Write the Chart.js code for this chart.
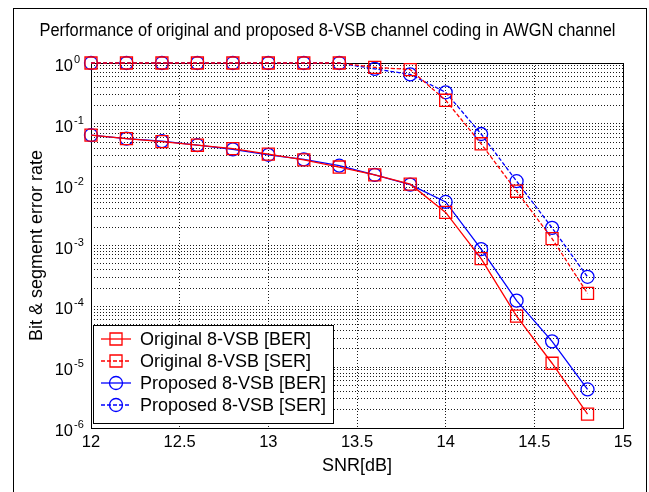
<!DOCTYPE html>
<html>
<head>
<meta charset="utf-8">
<script src="https://cdn.jsdelivr.net/npm/chart.js@4/dist/chart.umd.min.js"></script>
<style>
  html, body { margin: 0; padding: 0; background: #fff; }
  canvas { display: block; }
</style>
</head>
<body>
<canvas id="chart" width="649" height="492"></canvas>
<script>
// SNR points (dB)
const snr = [12, 12.2, 12.4, 12.6, 12.8, 13, 13.2, 13.4, 13.6, 13.8, 14, 14.2, 14.4, 14.6, 14.8];

// error rates
const originalBer = [0.065, 0.057, 0.051, 0.0445, 0.039, 0.0317, 0.0255, 0.0195, 0.0145, 0.0102, 0.0035, 6.1e-4, 6.9e-5, 1.16e-5, 1.69e-6];
const originalSer = [1, 1, 1, 1, 1, 1, 1, 1, 0.85, 0.78, 0.244, 0.047, 0.0078, 0.0013, 1.63e-4];
const proposedBer = [0.065, 0.057, 0.052, 0.0445, 0.038, 0.031, 0.026, 0.0205, 0.0145, 0.0100, 0.0052, 8.7e-4, 1.24e-4, 2.66e-5, 4.3e-6];
const proposedSer = [1, 1, 1, 1, 1, 1, 1, 1, 0.80, 0.65, 0.33, 0.068, 0.0114, 0.00195, 3.06e-4];

const seriesLabels = [
  "Original 8-VSB [BER]",
  "Original 8-VSB [SER]",
  "Proposed 8-VSB [BER]",
  "Proposed 8-VSB [SER]"
];

// x tick labels and y axis decades that get a label
const xTickLabels = ["12", "12.5", "13", "13.5", "14", "14.5", "15"];
const yExponents = [0, -1, -2, -3, -4, -5, -6];

const chartTitle = "Performance of original and proposed 8-VSB channel coding in AWGN channel";

const FONT = "Arial, 'Liberation Sans', sans-serif";
const RED = "#ff0000";
const BLUE = "#0000ff";

function pairs(values) {
  return snr.map((x, i) => ({ x, y: values[i] }));
}

function makeSet(label, values, color, shape, dashed) {
  return {
    label,
    data: pairs(values),
    borderColor: color,
    backgroundColor: color,
    borderWidth: 1.3,
    borderDash: dashed ? [4, 2] : [],
    pointStyle: shape,
    pointRadius: shape === "rect" ? 8.5 : 6.5,
    pointBorderWidth: 1.3,
    pointBorderColor: color,
    pointBackgroundColor: "rgba(0,0,0,0)",
    pointHoverRadius: shape === "rect" ? 8.5 : 6.5,
    tension: 0,
    clip: false
  };
}

/* -----------------------------------------------------
   EXTRA DRAWING: box, title, y labels, legend, frame
----------------------------------------------------- */
const matlabLook = {
  id: "matlabLook",
  beforeDatasetsDraw(chart) {
    const { ctx, chartArea: a } = chart;
    ctx.save();
    ctx.strokeStyle = "#000";
    ctx.lineWidth = 1;
    ctx.strokeRect(Math.round(a.left) + 0.5, Math.round(a.top) + 0.5,
      Math.round(a.right - a.left), Math.round(a.bottom - a.top));
    ctx.restore();
  },
  afterDraw(chart) {
    const { ctx, chartArea: a } = chart;
    const yScale = chart.scales.y;
    ctx.save();

    // outer frame
    ctx.strokeStyle = "#000";
    ctx.lineWidth = 1;
    ctx.strokeRect(13.5, 8.5, 633, 495);

    // title
    ctx.fillStyle = "#000";
    ctx.font = "18px " + FONT;
    ctx.textAlign = "center";
    ctx.textBaseline = "alphabetic";
    ctx.fillText(chartTitle, 327.5, 36, 576);

    // y tick labels 10^n
    yExponents.forEach(e => {
      const y = yScale.getPixelForValue(Math.pow(10, e));
      ctx.font = "16.5px " + FONT;
      ctx.textAlign = "right";
      ctx.fillText("10", a.left - 18, y + 8);
      ctx.font = "11px " + FONT;
      ctx.textAlign = "left";
      ctx.fillText(String(e), a.left - 17, y);
    });

    // legend
    const lx = a.left + 2, ly = a.bottom - 103, lw = 240, lh = 98;
    ctx.fillStyle = "#fff";
    ctx.fillRect(lx, ly, lw, lh);
    ctx.strokeStyle = "#000";
    ctx.strokeRect(lx + 0.5, ly + 0.5, lw, lh);
    chart.data.datasets.forEach((ds, i) => {
      const cy = ly + 14 + i * 22;
      ctx.strokeStyle = ds.borderColor;
      ctx.lineWidth = ds.borderWidth;
      ctx.setLineDash(ds.borderDash);
      ctx.beginPath();
      ctx.moveTo(lx + 8, cy);
      ctx.lineTo(lx + 38, cy);
      ctx.stroke();
      ctx.setLineDash([]);
      const mx = lx + 23;
      ctx.beginPath();
      if (ds.pointStyle === "rect") {
        const h = ds.pointRadius / Math.SQRT2;
        ctx.rect(mx - h, cy - h, 2 * h, 2 * h);
      } else {
        ctx.arc(mx, cy, ds.pointRadius, 0, Math.PI * 2);
      }
      ctx.stroke();
      ctx.fillStyle = "#000";
      ctx.font = "18px " + FONT;
      ctx.textAlign = "left";
      ctx.textBaseline = "middle";
      ctx.fillText(ds.label, lx + 47, cy + 1);
      ctx.textBaseline = "alphabetic";
    });

    ctx.restore();
  }
};

new Chart(document.getElementById("chart"), {
  type: "line",
  data: {
    datasets: [
      makeSet(seriesLabels[0], originalBer, RED, "rect", false),
      makeSet(seriesLabels[1], originalSer, RED, "rect", true),
      makeSet(seriesLabels[2], proposedBer, BLUE, "circle", false),
      makeSet(seriesLabels[3], proposedSer, BLUE, "circle", true)
    ]
  },
  options: {
    responsive: false,
    animation: false,
    layout: {
      padding: { left: 0, right: 26, top: 63, bottom: 0 }
    },
    plugins: {
      legend: { display: false },
      title: { display: false },
      tooltip: { enabled: false }
    },
    scales: {
      x: {
        type: "linear",
        min: 12,
        max: 15,
        ticks: {
          stepSize: 0.5,
          color: "#000",
          padding: 5,
          font: { size: 16.5, family: FONT },
          callback: (v, i) => xTickLabels[i]
        },
        grid: {
          color: "#1a1a1a",
          lineWidth: 1,
          drawTicks: false
        },
        border: { display: false, dash: [1, 2] },
        title: {
          display: true,
          text: "SNR[dB]",
          color: "#000",
          font: { size: 18, family: FONT },
          padding: { top: 0, bottom: 15 }
        },
        afterFit: s => { s.height = 64; }
      },
      y: {
        type: "logarithmic",
        min: 1e-6,
        max: 1,
        ticks: { display: false, autoSkip: false },
        grid: {
          color: "#1a1a1a",
          lineWidth: 1,
          drawTicks: false
        },
        border: { display: false, dash: [1, 2] },
        title: {
          display: true,
          text: "Bit & segment error rate",
          color: "#000",
          font: { size: 18, family: FONT },
          padding: { top: 26, bottom: 0 }
        },
        afterBuildTicks: s => {
          // keep only 1..9 x 10^n
          s.ticks = s.ticks.filter(t => {
            const m = t.value / Math.pow(10, Math.floor(Math.log10(t.value) + 1e-9));
            return Math.abs(m - Math.round(m)) < 1e-6;
          });
        },
        afterFit: s => { s.width = 91; }
      }
    }
  },
  plugins: [matlabLook]
});
</script>
</body>
</html>
